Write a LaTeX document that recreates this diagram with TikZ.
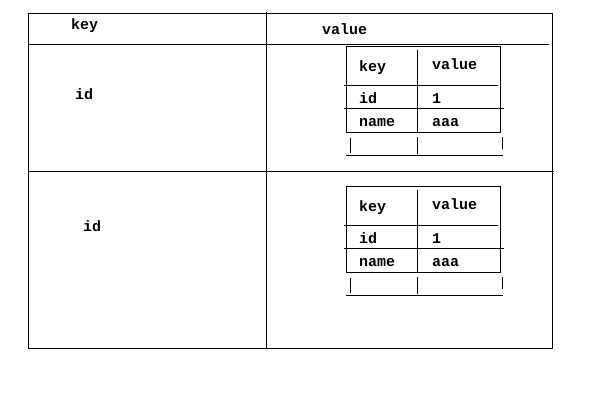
\documentclass[tikz,border=0pt]{standalone}
\usepackage{fontspec}
\setmonofont{Liberation Mono}
\tikzset{
  rule/.style={line width=1pt, black, line cap=rect},
  txt/.style={inner sep=0pt, anchor=base west, font=\ttfamily\bfseries\fontsize{15}{15}\selectfont},
}
\newcommand{\innertable}[2]{%
  \begin{scope}[yshift=#1]
    \draw[rule] (346,46) rectangle (500,132);
    \draw[rule] (417,50) -- (417,132);
    \draw[rule] (344,85) -- (497,85);
    \draw[rule] (344,108) -- (503,108);
    \draw[rule] (350,138) -- (350,152);
    \draw[rule] (417,137) -- (417,153);
    \draw[rule] (502,137) -- (502,148);
    \draw[rule] (346,155) -- (502,155);
    \node[txt] (#2k) at (359,71) {key};
    \node[txt] (#2v) at (432,69) {value};
    \node[txt] (#2i) at (359,103) {id};
    \node[txt] (#2o) at (432,103) {1};
    \node[txt] (#2n) at (359,126) {name};
    \node[txt] (#2a) at (432,126) {aaa};
  \end{scope}}
\begin{document}
\begin{tikzpicture}[x=1pt,y=-1pt]
  \useasboundingbox (0,0) rectangle (600,400);
  % outer table
  \draw[rule] (28,13) rectangle (552,348);
  \draw[rule] (266,12) -- (266,347);
  \draw[rule] (28,44) -- (548,44);
  \draw[rule] (28,171) -- (553,171);
  \node[txt] (hk) at (71,29) {key};
  \node[txt] (hv) at (322,34) {value};
  \node[txt] (id1) at (75,99) {id};
  \node[txt] (id2) at (83,231) {id};
  \innertable{0pt}{a}
  \innertable{-140pt}{b}
\end{tikzpicture}
\end{document}
